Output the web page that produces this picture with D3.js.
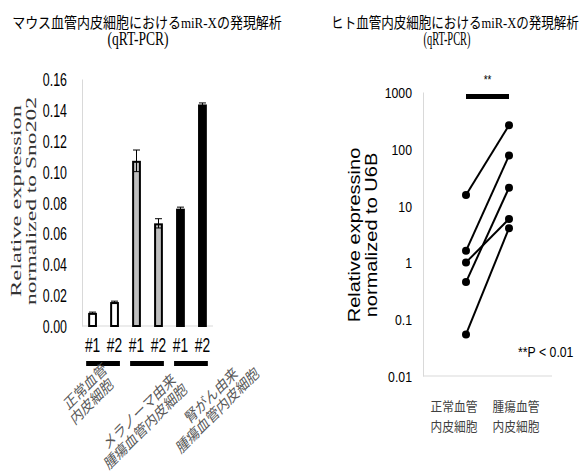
<!DOCTYPE html>
<html><head><meta charset="utf-8">
<script src="https://cdn.jsdelivr.net/npm/d3@7"></script>
<style>body{margin:0;background:#fff}</style>
</head><body><svg id="c" width="586" height="472"></svg>
<script>
// ---- data: left (mouse) bar chart ----
const barCategories = ["#1","#2","#1","#2","#1","#2"];
const barValues = [0.0085,0.0155,0.107,0.0665,0.076,0.1435];
const barErrors = [0.0005,0.0006,0.007,0.003,0.001,0.001];
const barGroupIndex = [0,0,1,1,2,2];
const groupLabels = [["正常血管","内皮細胞"],["メラノーマ由来","腫瘍血管内皮細胞"],["腎がん由来","腫瘍血管内皮細胞"]];
const barTicks = [0,0.02,0.04,0.06,0.08,0.10,0.12,0.14,0.16];
// ---- data: right (human) paired plot ----
const pairCategories = [["正常血管","内皮細胞"],["腫瘍血管","内皮細胞"]];
const normalValues = [15.4,1.6,1.0,0.45,0.054];
const tumorValues = [260,76,5.8,20.6,4.0];
const logTicks = [0.01,0.1,1,10,100,1000];
const logTickLabels = ["0.01","0.1","1","10","100","1000"];
const titles = [["マウス血管内皮細胞におけるmiR-Xの発現解析","(qRT-PCR)"],["ヒト血管内皮細胞におけるmiR-Xの発現解析","(qRT-PCR)"]];

const SANS = "'Liberation Sans', Arial, sans-serif";
const SERIF = "'Liberation Serif', 'Times New Roman', 'DejaVu Serif', 'Noto Sans CJK JP', serif";
const CJK = "'Noto Sans CJK JP', sans-serif";
const svg = d3.select("#c");
svg.append("rect").attr("width",586).attr("height",472).attr("fill","#fff");

function txt(g, x, y, s, o) {
  o = o || {};
  const t = g.append("text")
    .attr("font-family", o.family || SANS)
    .attr("font-size", o.size || 14)
    .attr("text-anchor", o.anchor || "start")
    .attr("fill", o.fill || "#000")
    .text(s);
  if (o.style) t.attr("font-style", o.style);
  if (o.baseline) t.attr("dominant-baseline", o.baseline);
  let sx = o.sx || 1, sy = o.sy || 1;
  if (o.len) {
    const nat = t.node().getComputedTextLength();
    if (o.rot) sx = o.len / nat; else sx = o.len / nat;
  }
  t.attr("transform", `translate(${x},${y}) rotate(${o.rot||0}) scale(${sx},${sy})`);
  return t;
}

// ---- titles ----
txt(svg, 147, 28, titles[0][0], {family: SERIF, size: 15, anchor: "middle", len: 270});
txt(svg, 138, 45, titles[0][1], {family: SERIF, size: 19, anchor: "middle", len: 61});
txt(svg, 455, 28, titles[1][0], {family: SERIF, size: 15, anchor: "middle", len: 248});
txt(svg, 447, 45, titles[1][1], {family: SERIF, size: 19, anchor: "middle", len: 47});

// ================= LEFT CHART =================
const L = svg.append("g");
const x = d3.scaleBand().domain(d3.range(barValues.length)).range([82,213]).paddingInner(0.6).paddingOuter(0.28);
const y = d3.scaleLinear().domain([0,0.16]).range([326,79]);
const SXL = 0.69;

const yAx = L.append("g").attr("transform","translate(82,0)")
  .call(d3.axisLeft(y).tickValues(barTicks).tickSize(0).tickSizeOuter(0).tickPadding(0).tickFormat(d3.format(".2f")));
yAx.select(".domain").attr("stroke","#d9d9d9").attr("stroke-width",1);
yAx.selectAll(".tick text").attr("x",null).attr("dy",null)
  .attr("transform",`translate(-15,6.5) scale(${SXL},1)`)
  .attr("font-size",18).attr("font-family",SANS).attr("fill","#000");
L.append("line").attr("x1",82).attr("x2",213).attr("y1",y(0)).attr("y2",y(0)).attr("stroke","#d9d9d9");

const barFill = ["#ffffff","#bfbfbf","#000000"];
L.selectAll("rect.bar").data(barValues).join("rect").attr("class","bar")
  .attr("x",(d,i)=>x(i)+1).attr("width",x.bandwidth()-2)
  .attr("y",d=>y(d)+1).attr("height",d=>y(0)-y(d)-1)
  .attr("fill",(d,i)=>barFill[barGroupIndex[i]])
  .attr("stroke","#000").attr("stroke-width",2);

const eg = L.append("g").attr("stroke","#000").attr("stroke-width",1);
barValues.forEach((v,i)=>{
  const cx = x(i)+x.bandwidth()/2, e = barErrors[i];
  eg.append("line").attr("x1",cx).attr("x2",cx).attr("y1",y(v+e)).attr("y2",y(v-e));
  eg.append("line").attr("x1",cx-3.5).attr("x2",cx+3.5).attr("y1",y(v+e)).attr("y2",y(v+e));
  eg.append("line").attr("x1",cx-3.5).attr("x2",cx+3.5).attr("y1",y(v-e)).attr("y2",y(v-e));
});

const xAx = L.append("g").attr("transform",`translate(0,${y(0)})`)
  .call(d3.axisBottom(x).tickSize(0).tickPadding(0).tickFormat(i=>barCategories[i]));
xAx.select(".domain").remove();
xAx.selectAll(".tick text").attr("y",null).attr("dy",null)
  .attr("transform",`translate(0,26) scale(${SXL},1)`)
  .attr("font-size",20).attr("font-family",SANS).attr("fill","#000");

// group bars + rotated labels
const labelOffset = [[-16,394],[-6,419],[22,403]];
groupLabels.forEach((lab,gi)=>{
  const idx = d3.range(barValues.length).filter(i=>barGroupIndex[i]===gi);
  const x0 = x(idx[0])-2, x1 = x(idx[idx.length-1])+x.bandwidth()+1;
  L.append("rect").attr("x",x0).attr("y",361).attr("width",x1-x0).attr("height",5).attr("fill","#000");
  const cx = (x0+x1)/2 + labelOffset[gi][0], cy = labelOffset[gi][1];
  const g = L.append("g").attr("transform",`translate(${cx},${cy}) rotate(-45)`);
  txt(g, 3, -7.5, lab[0], {family: CJK, size: 14, anchor: "middle", fill: "#595959", style: "italic", baseline: "central"});
  txt(g, -3, 7.5, lab[1], {family: CJK, size: 14, anchor: "middle", fill: "#595959", style: "italic", baseline: "central"});
});

// y label (serif, rotated)
const SERIF_L = "'Liberation Serif', 'Times New Roman', 'DejaVu Serif', serif";
txt(L, 21, 201, "Relative expression", {family: SERIF_L, size: 24, anchor: "middle", rot: -90, sy: 0.62, len: 192, fill: "#333"});
txt(L, 36, 201, "normalized to Sno202", {family: SERIF_L, size: 24, anchor: "middle", rot: -90, sy: 0.62, len: 208, fill: "#333"});

// ================= RIGHT CHART =================
const R = svg.append("g");
const SXR = 0.82;
const yl = d3.scaleLog().domain([0.01,1000]).range([376,92]);
const xp = d3.scalePoint().domain([0,1]).range([423,552]).padding(1);

const ylAx = R.append("g").attr("transform","translate(423,0)")
  .call(d3.axisLeft(yl).tickValues(logTicks).tickSize(0).tickSizeOuter(0).tickPadding(0).tickFormat((d,i)=>logTickLabels[i]));
ylAx.select(".domain").attr("stroke","#d9d9d9");
ylAx.selectAll(".tick text").attr("x",null).attr("dy",null)
  .attr("transform",`translate(-11,5.5) scale(${SXR},1)`)
  .attr("font-size",15).attr("font-family",SANS).attr("fill","#000");
R.append("line").attr("x1",423).attr("x2",552).attr("y1",yl(0.01)).attr("y2",yl(0.01)).attr("stroke","#d9d9d9");

normalValues.forEach((v,i)=>{
  R.append("line").attr("x1",xp(0)).attr("x2",xp(1)).attr("y1",yl(v)).attr("y2",yl(tumorValues[i]))
    .attr("stroke","#000").attr("stroke-width",2);
});
R.selectAll("circle.n").data(normalValues).join("circle").attr("class","n")
  .attr("cx",xp(0)).attr("cy",d=>yl(d)).attr("r",4).attr("fill","#000");
R.selectAll("circle.t").data(tumorValues).join("circle").attr("class","t")
  .attr("cx",xp(1)).attr("cy",d=>yl(d)).attr("r",4).attr("fill","#000");

// significance
R.append("rect").attr("x",xp(0)).attr("y",94).attr("width",xp(1)-xp(0)).attr("height",5).attr("fill","#000");
txt(R, (xp(0)+xp(1))/2, 84, "**", {size: 12, anchor: "middle", sx: SXR});
txt(R, 518, 357, "**P < 0.01", {size: 15, sx: SXR});

// x labels
const xLabShift = [-12, 7];
pairCategories.forEach((lab,i)=>{
  txt(R, xp(i)+xLabShift[i], 411, lab[0], {family: CJK, size: 13, anchor: "middle", sx: 0.9, fill: "#404040"});
  txt(R, xp(i)+xLabShift[i], 431, lab[1], {family: CJK, size: 13, anchor: "middle", sx: 0.9, fill: "#404040"});
});

// y label
txt(R, 360, 235, "Relative expressino", {size: 20, anchor: "middle", rot: -90, sy: 0.8});
txt(R, 377, 235, "normalized to U6B", {size: 20, anchor: "middle", rot: -90, sy: 0.8});
</script></body></html>
